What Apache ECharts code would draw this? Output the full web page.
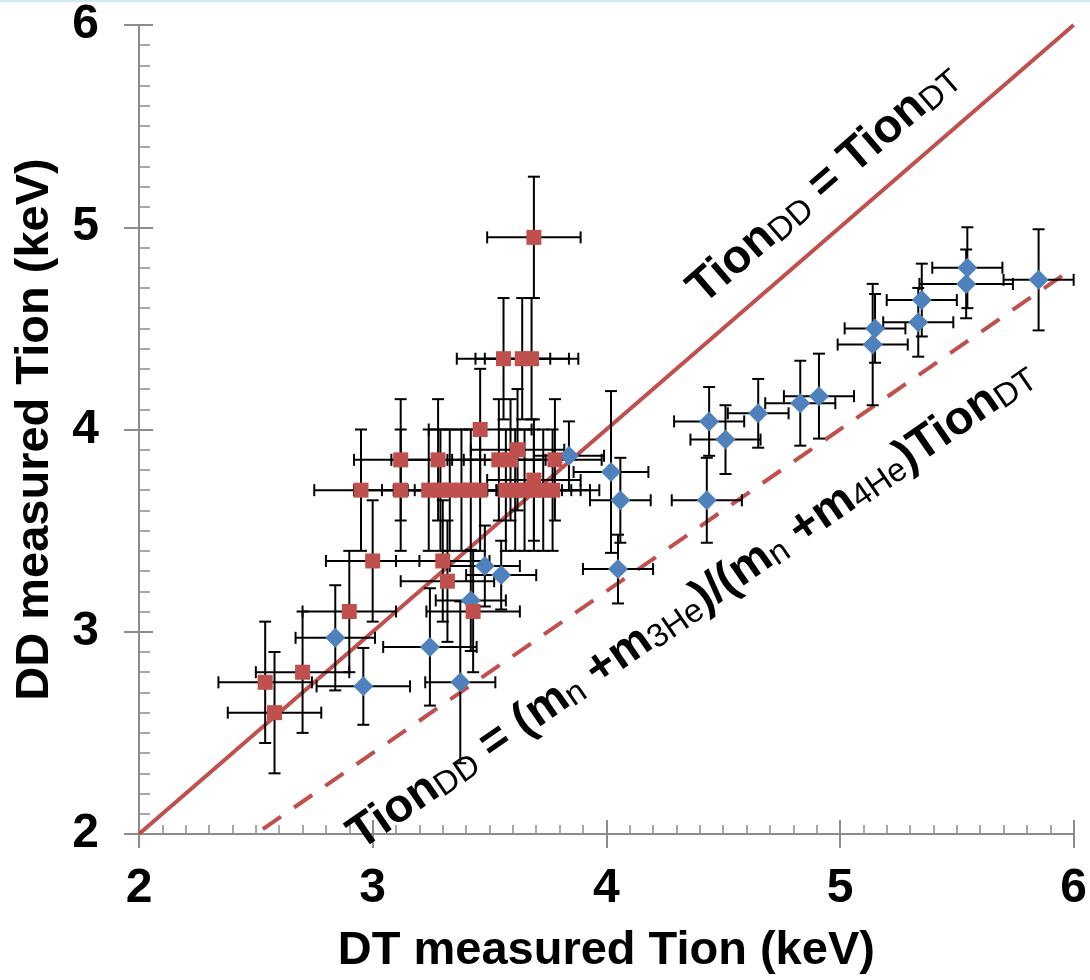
<!DOCTYPE html>
<html>
<head>
<meta charset="utf-8">
<script src="https://cdn.jsdelivr.net/npm/echarts@6/dist/echarts.min.js"></script>
<style>
html,body{margin:0;padding:0;background:#ffffff;}
#c{width:1090px;height:980px;}
</style>
</head>
<body>
<div id="c"></div>
<script>
// ---- data ----
const xTicks = [2, 3, 4, 5, 6];
const yTicks = [2, 3, 4, 5, 6];

// red squares
const redX    = [2.54, 2.58, 2.70, 2.90, 3.00, 2.95, 3.12, 3.12, 3.28, 3.30, 3.32, 3.46, 3.43,
                 3.24, 3.29, 3.33, 3.38, 3.42, 3.46,
                 3.57, 3.61, 3.65, 3.69, 3.73, 3.77,
                 3.69, 3.54, 3.59, 3.62, 3.78, 3.69, 3.56, 3.64, 3.68];
const redY    = [2.75, 2.60, 2.80, 3.10, 3.35, 3.70, 3.70, 3.85, 3.85, 3.35, 3.25, 4.00, 3.10,
                 3.70, 3.70, 3.70, 3.70, 3.70, 3.70,
                 3.70, 3.70, 3.70, 3.70, 3.70, 3.70,
                 3.75, 3.85, 3.85, 3.90, 3.85, 4.95, 4.35, 4.35, 4.35];
const redXErr = [0.20, 0.20, 0.20, 0.20, 0.20, 0.20, 0.20, 0.20, 0.20, 0.20, 0.20, 0.22, 0.20,
                 0.20, 0.20, 0.20, 0.20, 0.20, 0.20,
                 0.20, 0.20, 0.20, 0.20, 0.20, 0.20,
                 0.20, 0.20, 0.20, 0.20, 0.20, 0.20, 0.20, 0.20, 0.20];
const redYErr = [0.30, 0.30, 0.30, 0.30, 0.30, 0.30, 0.30, 0.30, 0.30, 0.30, 0.30, 0.30, 0.30,
                 0.30, 0.30, 0.30, 0.30, 0.30, 0.30,
                 0.30, 0.30, 0.30, 0.30, 0.30, 0.30,
                 0.30, 0.30, 0.30, 0.30, 0.30, 0.30, 0.30, 0.30, 0.30];

// blue diamonds
const blueX    = [2.84, 2.96, 3.245, 3.375, 3.42, 3.48, 3.55, 3.84, 4.02, 4.06, 4.05, 4.44,
                  4.51, 4.43, 4.65, 4.83, 4.91, 5.15, 5.14, 5.335, 5.35, 5.54, 5.545, 5.85];
const blueY    = [2.97, 2.73, 2.925, 2.75, 3.155, 3.325, 3.28, 3.87, 3.79, 3.65, 3.31, 4.04,
                  3.95, 3.65, 4.08, 4.13, 4.165, 4.50, 4.42, 4.53, 4.64, 4.72, 4.80, 4.74];
const blueXErr = [0.17, 0.20, 0.20, 0.15, 0.15, 0.15, 0.15, 0.15, 0.16, 0.13, 0.15, 0.15,
                  0.15, 0.15, 0.13, 0.15, 0.15, 0.13, 0.15, 0.15, 0.15, 0.20, 0.15, 0.15];
const blueYErr = [0.26, 0.19, 0.29, 0.40, 0.25, 0.20, 0.17, 0.17, 0.40, 0.21, 0.17, 0.17,
                  0.17, 0.21, 0.17, 0.21, 0.21, 0.17, 0.30, 0.17, 0.18, 0.17, 0.20, 0.25];

// reference lines: Tion_DD = Tion_DT  and  Tion_DD = 0.8 Tion_DT
const equalLine  = [[2, 2], [6, 6]];
const massLine   = [[2.53, 2.024], [6, 4.8]];

// annotation anchors (data coords of label centres)
const label1Anchor = [4.925, 5.225];
const label2Anchor = [4.36, 3.14];

// ---- chart ----
const FONT = '"Liberation Sans", Arial, Helvetica, sans-serif';
const RED = '#C0504D', BLUE = '#4F81BD', AXIS = '#8c8c8c';

const chart = echarts.init(document.getElementById('c'), null, {renderer: 'canvas'});

function zip4(a, b, c, d) { return a.map((v, i) => [v, b[i], c[i], d[i]]); }
function zip2(a, b) { return a.map((v, i) => [v, b[i]]); }

function renderErr(params, api) {
  const x = api.value(0), y = api.value(1), ex = api.value(2), ey = api.value(3);
  const L = api.coord([x - ex, y]), R = api.coord([x + ex, y]);
  const T = api.coord([x, y + ey]), B = api.coord([x, y - ey]);
  const c = 6;
  const st = {stroke: '#000', lineWidth: 2};
  const ln = (x1, y1, x2, y2) => ({type: 'line', shape: {x1, y1, x2, y2}, style: st});
  return {type: 'group', children: [
    ln(L[0], L[1], R[0], R[1]),
    ln(L[0], L[1] - c, L[0], L[1] + c),
    ln(R[0], R[1] - c, R[0], R[1] + c),
    ln(T[0], T[1], B[0], B[1]),
    ln(T[0] - c, T[1], T[0] + c, T[1]),
    ln(B[0] - c, B[1], B[0] + c, B[1])
  ]};
}

const baseAxis = {
  type: 'value', min: 2, max: 6, interval: 1,
  splitLine: {show: false}
};

const option = {
  animation: false,
  backgroundColor: '#ffffff',
  grid: {left: 139, right: 13, top: 25, bottom: 144, containLabel: false},
  xAxis: [
    Object.assign({}, baseAxis, {
      position: 'bottom',
      axisLine: {show: true, lineStyle: {color: AXIS, width: 2}},
      axisTick: {show: true, inside: true, length: 14, lineStyle: {color: AXIS, width: 2}},
      minorTick: {show: true, splitNumber: 10, length: 9, lineStyle: {color: AXIS, width: 1.5}},
      axisLabel: {show: true, margin: 31, color: '#000', fontSize: 48, fontWeight: 'bold', fontFamily: FONT,
        formatter: v => (xTicks.indexOf(v) >= 0 ? String(v) : '')},
      name: 'DT measured Tion (keV)', nameLocation: 'middle', nameGap: 94,
      nameTextStyle: {color: '#000', fontSize: 47, fontWeight: 'bold', fontFamily: FONT}
    }),
    Object.assign({}, baseAxis, {
      position: 'bottom',
      axisLine: {show: false},
      axisTick: {show: true, inside: false, length: 14, lineStyle: {color: AXIS, width: 2}},
      axisLabel: {show: false}
    })
  ],
  yAxis: [
    Object.assign({}, baseAxis, {
      position: 'left',
      axisLine: {show: true, lineStyle: {color: AXIS, width: 2}},
      axisTick: {show: true, inside: true, length: 14, lineStyle: {color: AXIS, width: 2}},
      minorTick: {show: true, splitNumber: 10, length: 11, lineStyle: {color: AXIS, width: 1.5}},
      axisLabel: {show: true, margin: 40, color: '#000', fontSize: 48, fontWeight: 'bold', fontFamily: FONT,
        formatter: v => (yTicks.indexOf(v) >= 0 ? String(v) : '')},
      name: 'DD measured Tion (keV)', nameLocation: 'middle', nameGap: 80,
      nameTextStyle: {color: '#000', fontSize: 47, fontWeight: 'bold', fontFamily: FONT}
    }),
    Object.assign({}, baseAxis, {
      position: 'left',
      axisLine: {show: false},
      axisTick: {show: true, inside: false, length: 15, lineStyle: {color: AXIS, width: 2}},
      axisLabel: {show: false}
    })
  ],
  series: [
    {
      type: 'line', data: equalLine, symbol: 'none', silent: true,
      lineStyle: {color: RED, width: 4}, z: 2
    },
    {
      type: 'line', data: massLine, symbol: 'none', silent: true,
      lineStyle: {color: RED, width: 4, type: [22, 16], cap: 'butt'}, z: 2
    },
    {
      type: 'custom', renderItem: renderErr, encode: {x: 0, y: 1},
      data: zip4(blueX, blueY, blueXErr, blueYErr), silent: true, z: 3
    },
    {
      type: 'custom', renderItem: renderErr, encode: {x: 0, y: 1},
      data: zip4(redX, redY, redXErr, redYErr), silent: true, z: 3
    },
    {
      type: 'scatter', data: zip2(blueX, blueY), symbol: 'diamond', symbolSize: 20,
      itemStyle: {color: BLUE, opacity: 1}, z: 4
    },
    {
      type: 'scatter', data: zip2(redX, redY), symbol: 'rect', symbolSize: 15,
      itemStyle: {color: RED, opacity: 1}, z: 5
    }
  ]
};

chart.setOption(option);

// ---- annotations along the lines ----
function lineAngle(seg) {
  const a = chart.convertToPixel({gridIndex: 0}, seg[0]);
  const b = chart.convertToPixel({gridIndex: 0}, seg[1]);
  return Math.atan2(a[1] - b[1], b[0] - a[0]);
}
const MAIN = {fontSize: 47, fontWeight: 'bold', fontFamily: FONT, lineHeight: 52, color: '#000', verticalAlign: 'bottom'};
const SUB  = {fontSize: 33, fontWeight: 'normal', fontFamily: FONT, lineHeight: 20, color: '#000', verticalAlign: 'bottom'};
const rich = {a: MAIN, s: SUB};

const p1 = chart.convertToPixel({gridIndex: 0}, label1Anchor);
const p2 = chart.convertToPixel({gridIndex: 0}, label2Anchor);

chart.setOption({
  graphic: [
    {
      type: 'text', x: p1[0], y: p1[1], rotation: lineAngle(equalLine), z: 100, silent: true,
      style: {
        text: '{a|Tion}{s|DD}{a| = Tion}{s|DT}',
        rich: rich, align: 'center', verticalAlign: 'middle', fill: '#000'
      }
    },
    {
      type: 'text', x: p2[0], y: p2[1], rotation: lineAngle(massLine), z: 100, silent: true,
      style: {
        text: '{a|Tion}{s|DD}{a| = (m}{s|n}{a| +m}{s|3He}{a|)/(m}{s|n}{a| +m}{s|4He}{a|)Tion}{s|DT}',
        rich: rich, align: 'center', verticalAlign: 'middle', fill: '#000'
      }
    },
    {
      type: 'line', shape: {x1: 0, y1: 1, x2: 1090, y2: 1}, z: 100, silent: true,
      style: {stroke: '#cfe9f1', lineWidth: 2}
    }
  ]
});
</script>
</body>
</html>
